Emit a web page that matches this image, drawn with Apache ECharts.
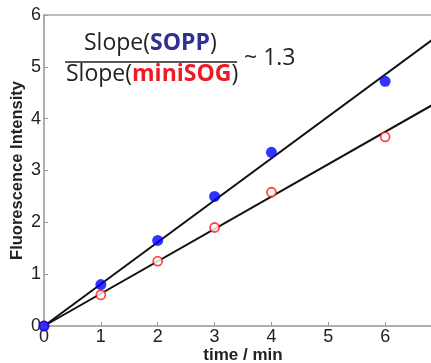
<!DOCTYPE html>
<html>
<head>
<meta charset="utf-8">
<script src="https://cdn.jsdelivr.net/npm/echarts@6/dist/echarts.min.js"></script>
<style>
  html, body { margin: 0; padding: 0; background: #fff; }
  #chart { width: 431px; height: 363px; }
</style>
</head>
<body>
<div id="chart"></div>
<script>
  var xTicks = [0, 1, 2, 3, 4, 5, 6];
  var yTicks = [0, 1, 2, 3, 4, 5, 6];
  // measured points (time, intensity)
  var sopp = [[0, 0], [1, 0.8], [2, 1.65], [3, 2.5], [4, 3.35], [6, 4.72]];
  var miniSOG = [[0, 0], [1, 0.6], [2, 1.25], [3, 1.9], [4, 2.58], [6, 3.65]];
  // fitted lines, end points
  var fitSopp = [[0, 0], [7, 5.66]];
  var fitMini = [[0, 0], [7, 4.37]];

  var dom = document.getElementById('chart');
  var myChart = echarts.init(dom, null, { renderer: 'canvas' });

  var tickFont = {
    fontFamily: 'Liberation Sans',
    fontSize: 18,
    color: '#222'
  };

  var option = {
    animation: false,
    grid: {
      left: 44,
      right: -11,
      top: 15,
      bottom: 37,
      outerBoundsMode: 'none',
      containLabel: false,
      show: true,
      borderColor: '#aaa',
      borderWidth: 1.5
    },
    xAxis: {
      type: 'value',
      min: 0,
      max: 7,
      interval: 1,
      name: 'time / min',
      nameLocation: 'middle',
      nameGap: 21,
      nameMoveOverlap: false,
      nameTextStyle: {
        fontFamily: 'Liberation Sans',
        fontWeight: 'bold',
        fontSize: 17,
        color: '#222'
      },
      axisLine: { show: true, onZero: false, lineStyle: { color: '#aaa', width: 1.5 } },
      axisTick: { show: true, inside: true, length: 4, lineStyle: { color: '#999' } },
      axisLabel: Object.assign({ margin: 2, showMaxLabel: false, formatter: function (v) { return xTicks.indexOf(v) >= 0 ? v : ''; } }, tickFont),
      splitLine: { show: false }
    },
    yAxis: {
      type: 'value',
      min: 0,
      max: 6,
      interval: 1,
      name: 'Fluorescence Intensity',
      nameLocation: 'middle',
      nameGap: 18,
      nameMoveOverlap: false,
      nameTextStyle: {
        fontFamily: 'Liberation Sans',
        fontWeight: 'bold',
        fontSize: 16.5,
        color: '#222'
      },
      axisLine: { show: true, onZero: false, lineStyle: { color: '#aaa', width: 1.5 } },
      axisTick: { show: true, inside: true, length: 4, lineStyle: { color: '#999' } },
      axisLabel: Object.assign({ margin: 3, formatter: function (v) { return yTicks.indexOf(v) >= 0 ? v : ''; } }, tickFont),
      splitLine: { show: false }
    },
    graphic: [
      {
        type: 'text',
        left: 84,
        top: 32,
        style: {
          text: '{n|Slope(}{b|SOPP}{n|)}',
          rich: {
            n: { fontFamily: 'Open Sans', fontSize: 23, fill: '#231f20' },
            b: { fontFamily: 'Open Sans', fontSize: 23, fontWeight: 'bold', fill: '#2e3192' }
          }
        }
      },
      {
        type: 'line',
        shape: { x1: 65, y1: 62, x2: 237, y2: 62 },
        style: { stroke: '#231f20', lineWidth: 1.5 }
      },
      {
        type: 'text',
        left: 66,
        top: 63,
        style: {
          text: '{n|Slope(}{r|miniSOG}{n|)}',
          rich: {
            n: { fontFamily: 'Open Sans', fontSize: 23, fill: '#231f20' },
            r: { fontFamily: 'Open Sans', fontSize: 23, fontWeight: 'bold', fill: '#ed1c24' }
          }
        }
      },
      {
        type: 'text',
        left: 244,
        top: 47,
        style: {
          text: '~ 1.3',
          fontFamily: 'Open Sans',
          fontSize: 23,
          fill: '#231f20'
        }
      }
    ],
    series: [
      {
        name: 'fit SOPP',
        type: 'line',
        data: fitSopp,
        symbol: 'none',
        lineStyle: { color: '#111', width: 2 },
        z: 2
      },
      {
        name: 'fit miniSOG',
        type: 'line',
        data: fitMini,
        symbol: 'none',
        lineStyle: { color: '#111', width: 2 },
        z: 2
      },
      {
        name: 'miniSOG',
        type: 'scatter',
        data: miniSOG,
        symbol: 'circle',
        symbolSize: 9,
        itemStyle: { color: '#fff', borderColor: '#ff1a1a', borderWidth: 1.8 },
        z: 3
      },
      {
        name: 'SOPP',
        type: 'scatter',
        data: sopp,
        symbol: 'circle',
        symbolSize: 11,
        itemStyle: { color: '#0000ff' },
        z: 4
      }
    ]
  };

  myChart.setOption(option);
</script>
</body>
</html>
